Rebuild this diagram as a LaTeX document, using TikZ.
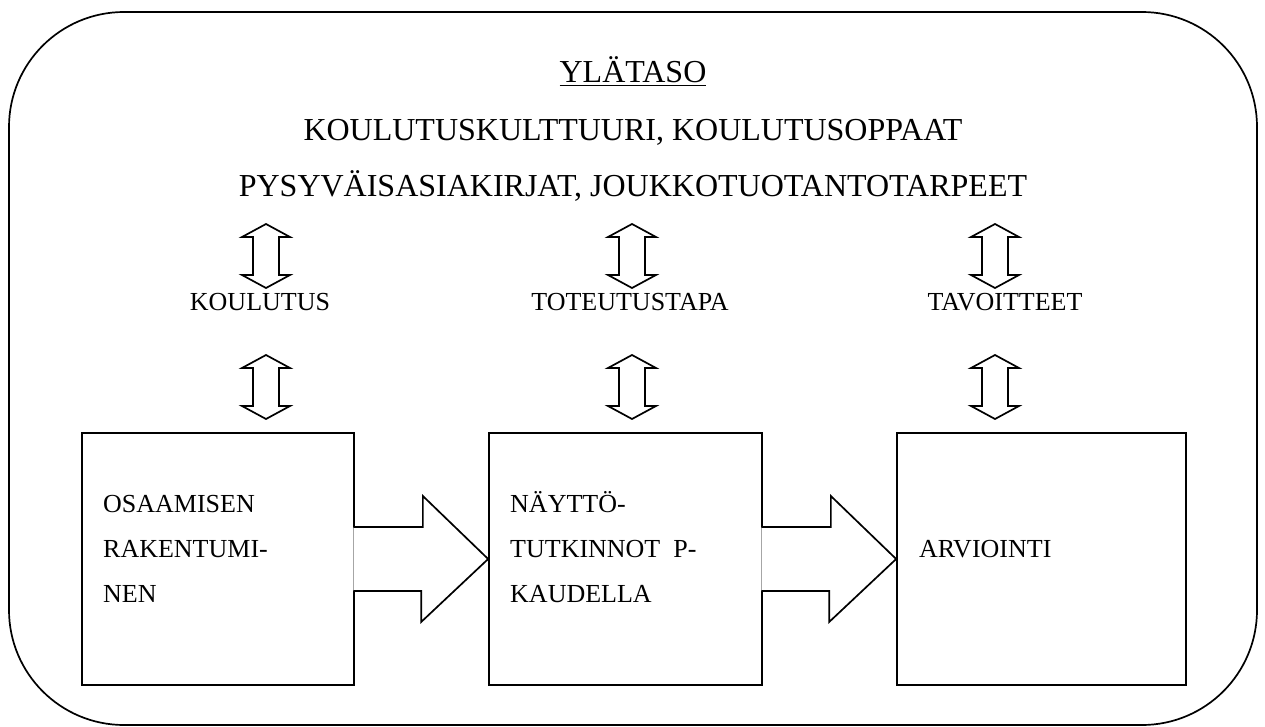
\documentclass[tikz,border=0pt]{standalone}
\usepackage{fontspec}
\setmainfont{Liberation Serif}
\usetikzlibrary{calc}
\begin{document}
\begin{tikzpicture}[x=1pt,y=-1pt,line join=miter,
  ln/.style={line width=1.7pt},
  title/.style={font=\fontsize{32}{32}\selectfont,anchor=base,inner sep=0pt},
  lbl/.style={font=\fontsize{26}{26}\selectfont,anchor=base,inner sep=0pt},
  btxt/.style={font=\fontsize{26}{26}\selectfont,anchor=base west,inner sep=0pt},
  boxshape/.style={rectangle,inner sep=0pt,draw,ln},
  dblarrow/.pic={\draw[ln,fill=white] (0,-32) -- (24,-19) -- (13,-19) -- (13,19) -- (24,19) -- (0,32) -- (-24,19) -- (-13,19) -- (-13,-19) -- (-24,-19) -- cycle;}
]
\useasboundingbox (0,0) rectangle (1265,727);
% outer frame
\draw[ln,rounded corners=115pt] (9,12) rectangle (1257,725);
% title texts
\node[title] (t1) at (633,83) {\underline{YLÄTASO}};
\node[title] (t2) at (633,141) {KOULUTUSKULTTUURI, KOULUTUSOPPAAT};
\node[title] (t3) at (633,197) {PYSYVÄISASIAKIRJAT, JOUKKOTUOTANTOTARPEET};
% labels
\node[lbl] (l1) at (260,310) {KOULUTUS};
\node[lbl] (l2) at (630,310) {TOTEUTUSTAPA};
\node[lbl] (l3) at (1005,310) {TAVOITTEET};
% double arrows
\pic at (266,256) {dblarrow};
\pic at (266,387) {dblarrow};
\pic at (632,256) {dblarrow};
\pic at (632,387) {dblarrow};
\pic at (995,256) {dblarrow};
\pic at (995,387) {dblarrow};
% boxes
\node[boxshape,minimum width=272pt,minimum height=252pt] (b1) at (218,559) {};
\node[boxshape,minimum width=273pt,minimum height=252pt] (b2) at (625.5,559) {};
\node[boxshape,minimum width=289pt,minimum height=252pt] (b3) at (1041.5,559) {};
% box texts
\node[btxt] (o1) at (103,512) {OSAAMISEN};
\node[btxt] (o2) at (103,557) {RAKENTUMI-};
\node[btxt] (o3) at (103,602) {NEN};
\node[btxt] (n1) at (510,512) {NÄYTTÖ-};
\node[btxt] (n2) at (510,557) {TUTKINNOT\ \ P-};
\node[btxt] (n3) at (510,602) {KAUDELLA};
\node[btxt] (a1) at (919,557) {ARVIOINTI};
% block arrows
\path[ln,draw,fill=white] ($(b1.east)+(-1.5,-32)$) -- ++(69.5,0) -- ++(0,-31) -- (b2.west) -- ($(b2.west)+(-67,63)$) -- ++(0,-31) -- ($(b1.east)+(-1.5,32)$);
\path[ln,draw,fill=white] ($(b2.east)+(-1.5,-32)$) -- ++(69.5,0) -- ++(0,-31) -- (b3.west) -- ($(b3.west)+(-67,63)$) -- ++(0,-31) -- ($(b2.east)+(-1.5,32)$);
\end{tikzpicture}
\end{document}
